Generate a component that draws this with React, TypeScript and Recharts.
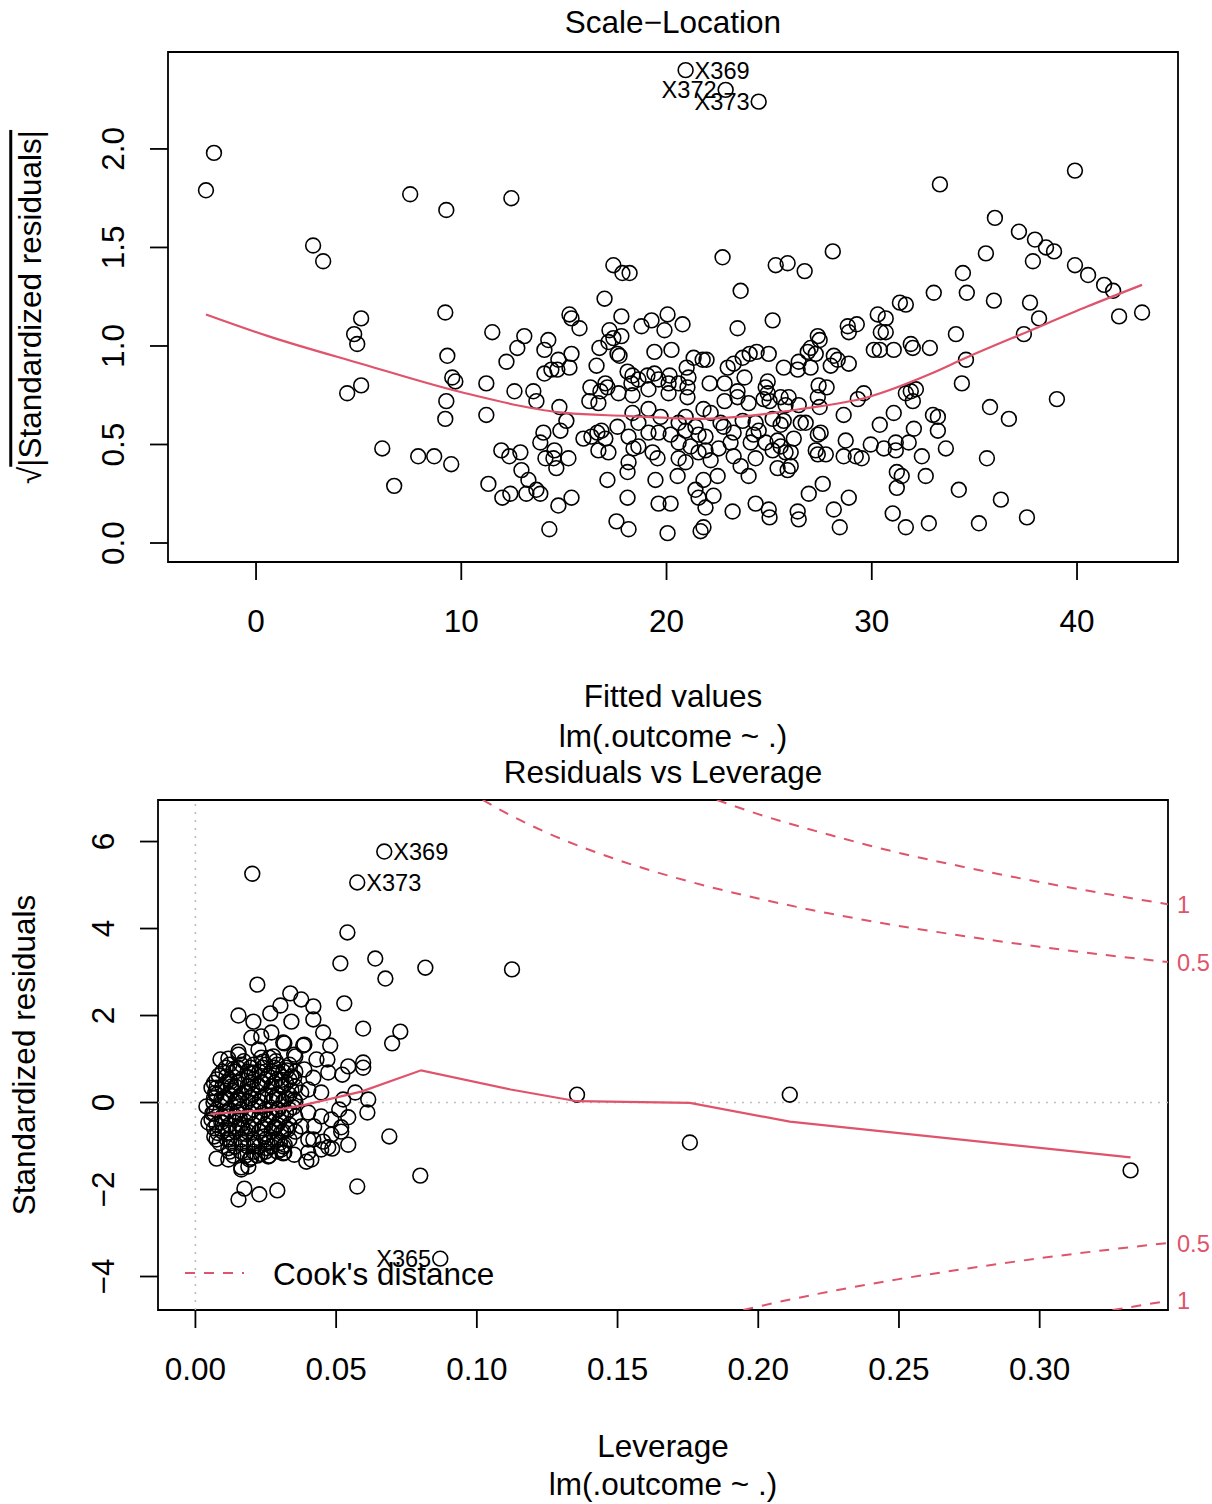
import React from "react";
import {
  ReferenceArea,
  ReferenceLine,
  Scatter,
  ScatterChart,
  XAxis,
  YAxis,
} from "recharts";

const FONT = "'Liberation Sans', Arial, Helvetica, sans-serif";
const RED = "#DF536B";
const INK = "#000";

// ---------- Scale-Location: fitted value vs sqrt(|standardized residual|) ----------
const slLeft: [number, number][] = [
  [-2.05, 1.98], [-2.44, 1.79], [7.51, 1.77], [9.27, 1.69], [2.78, 1.51], [3.27, 1.43],
  [5.12, 1.14], [4.78, 1.06], [4.93, 1.01], [9.22, 1.17], [9.32, 0.95], [9.56, 0.84],
  [9.71, 0.82], [5.12, 0.8], [4.44, 0.76], [9.27, 0.72], [9.22, 0.63], [6.15, 0.48],
  [7.9, 0.44], [8.68, 0.44], [9.51, 0.4], [6.73, 0.29], [11.51, 1.07], [11.22, 0.81],
  [11.22, 0.65], [11.95, 0.47], [11.32, 0.3],
];

const slMid: [number, number][] = [
  [12.44, 1.75], [17.41, 1.41], [17.85, 1.37], [18.2, 1.37], [16.98, 1.24], [17.8, 1.15],
  [15.27, 1.16], [15.37, 1.14], [15.76, 1.09], [13.07, 1.05], [12.73, 0.99], [14.24, 1.03],
  [14.05, 0.98], [12.2, 0.92], [15.37, 0.96], [14.73, 0.93], [14.68, 0.88], [15.27, 0.89],
  [14.39, 0.88], [14.05, 0.86], [17.22, 1.08], [17.41, 1.04], [17.8, 1.05], [16.73, 0.99],
  [17.17, 1.02], [17.61, 0.96], [17.71, 0.95], [16.59, 0.9], [18.78, 1.1], [19.27, 1.13],
  [20.05, 1.16], [19.9, 1.08], [20.78, 1.11], [19.41, 0.97], [20.24, 0.98], [21.32, 0.94],
  [20.98, 0.89], [21.76, 0.93], [12.59, 0.77], [13.51, 0.77], [13.66, 0.72], [14.78, 0.69],
  [15.12, 0.62], [14.83, 0.57], [14.0, 0.56], [13.85, 0.51], [12.34, 0.44], [12.88, 0.46],
  [14.1, 0.43], [14.54, 0.47], [14.49, 0.43], [15.22, 0.43], [14.63, 0.38], [12.93, 0.37],
  [13.27, 0.32], [13.66, 0.27], [13.85, 0.25], [13.17, 0.25], [12.39, 0.25], [12.0, 0.23],
  [15.37, 0.23], [14.73, 0.19], [14.29, 0.07], [16.29, 0.79], [16.24, 0.72], [16.78, 0.77],
  [17.02, 0.81], [16.68, 0.71], [17.12, 0.79], [17.66, 0.76], [18.1, 0.87], [18.34, 0.85],
  [18.63, 0.83], [18.29, 0.81], [19.07, 0.85], [19.41, 0.86], [19.61, 0.83], [20.15, 0.85],
  [20.1, 0.81], [20.59, 0.81], [21.07, 0.84], [21.02, 0.79], [18.34, 0.75], [19.12, 0.78],
  [20.1, 0.76], [21.02, 0.74], [19.12, 0.68], [18.34, 0.66], [19.71, 0.64], [18.63, 0.61],
  [17.61, 0.59], [15.95, 0.53], [16.34, 0.54], [16.63, 0.56], [16.83, 0.57], [17.02, 0.53],
  [16.68, 0.47], [17.17, 0.46], [18.15, 0.54], [18.39, 0.48], [19.12, 0.56], [19.61, 0.56],
  [20.2, 0.55], [20.59, 0.61], [20.93, 0.64], [20.93, 0.57], [21.41, 0.59], [21.56, 0.55],
  [20.59, 0.51], [21.17, 0.49], [18.63, 0.49], [19.32, 0.46], [19.56, 0.43], [20.59, 0.43],
  [20.93, 0.41], [21.56, 0.46], [18.15, 0.41], [18.1, 0.36], [17.12, 0.32], [19.46, 0.32],
  [20.54, 0.34], [21.41, 0.27], [21.56, 0.23], [18.1, 0.23], [19.61, 0.2], [20.2, 0.2],
  [17.56, 0.11], [18.15, 0.07], [20.05, 0.05], [21.66, 0.06],
];

const slRight: [number, number][] = [
  [22.73, 1.45], [25.32, 1.41], [25.9, 1.42], [26.73, 1.38], [28.1, 1.48], [23.61, 1.28],
  [33.02, 1.27], [31.37, 1.22], [31.66, 1.21], [30.29, 1.16], [30.68, 1.14], [23.46, 1.09],
  [25.17, 1.13], [28.83, 1.1], [29.27, 1.11], [28.88, 1.07], [30.44, 1.07], [30.68, 1.07],
  [30.1, 0.98], [30.39, 0.98], [31.07, 0.98], [31.9, 1.01], [32.0, 0.99], [32.83, 0.99],
  [27.37, 1.05], [27.46, 1.03], [27.02, 0.99], [27.27, 0.96], [26.88, 0.97], [26.44, 0.92],
  [26.39, 0.88], [27.02, 0.89], [25.71, 0.89], [28.15, 0.95], [28.34, 0.93], [28.0, 0.9],
  [28.88, 0.91], [21.95, 0.93], [22.98, 0.89], [23.27, 0.91], [23.71, 0.94], [24.05, 0.96],
  [24.39, 0.97], [24.98, 0.96], [23.8, 0.84], [22.1, 0.81], [22.83, 0.81], [23.46, 0.77],
  [23.46, 0.74], [22.83, 0.72], [24.0, 0.71], [24.93, 0.82], [24.83, 0.79], [24.93, 0.76],
  [24.73, 0.73], [25.02, 0.72], [25.56, 0.74], [25.95, 0.74], [25.8, 0.7], [26.44, 0.7],
  [27.41, 0.8], [27.8, 0.79], [27.37, 0.74], [27.46, 0.69], [29.32, 0.73], [29.61, 0.76],
  [28.63, 0.65], [31.66, 0.76], [31.9, 0.77], [32.15, 0.78], [32.0, 0.72], [31.07, 0.66],
  [32.98, 0.65], [33.22, 0.64], [30.39, 0.6], [32.05, 0.58], [33.22, 0.57], [21.8, 0.68],
  [22.15, 0.66], [22.63, 0.61], [22.78, 0.59], [23.71, 0.62], [24.34, 0.61], [24.49, 0.57],
  [25.17, 0.63], [25.71, 0.62], [25.56, 0.6], [26.54, 0.61], [26.78, 0.61], [27.37, 0.55],
  [27.51, 0.56], [26.2, 0.53], [25.41, 0.52], [25.56, 0.49], [24.83, 0.51], [24.24, 0.55],
  [24.1, 0.51], [23.27, 0.56], [23.12, 0.51], [22.54, 0.48], [21.9, 0.54], [21.9, 0.47],
  [22.15, 0.42], [23.27, 0.44], [24.34, 0.43], [25.17, 0.47], [25.8, 0.46], [26.05, 0.46],
  [27.27, 0.47], [27.37, 0.45], [27.76, 0.45], [28.73, 0.52], [28.63, 0.44], [29.22, 0.44],
  [29.51, 0.43], [29.95, 0.5], [30.59, 0.48], [31.17, 0.51], [31.17, 0.47], [31.8, 0.51],
  [32.44, 0.44], [23.61, 0.39], [24.0, 0.34], [25.41, 0.38], [25.9, 0.37], [26.05, 0.39],
  [22.49, 0.34], [21.8, 0.32], [22.29, 0.24], [21.9, 0.18], [31.22, 0.36], [31.46, 0.34],
  [31.22, 0.28], [32.63, 0.34], [26.93, 0.25], [27.61, 0.3], [28.88, 0.23], [24.34, 0.2],
  [24.98, 0.17], [25.02, 0.13], [23.22, 0.16], [26.39, 0.16], [26.44, 0.12], [28.15, 0.17],
  [28.44, 0.08], [31.02, 0.15], [31.66, 0.08], [32.78, 0.1], [21.8, 0.08],
  [33.32, 1.82], [39.9, 1.89], [36.0, 1.65], [37.17, 1.58], [37.95, 1.54], [38.49, 1.5],
  [38.88, 1.48], [35.56, 1.47], [37.85, 1.43], [39.9, 1.41], [40.54, 1.36], [41.32, 1.31],
  [41.76, 1.28], [34.44, 1.37], [34.63, 1.27], [35.95, 1.23], [37.71, 1.22], [38.15, 1.14],
  [42.05, 1.15], [43.17, 1.17], [34.1, 1.06], [37.41, 1.06], [34.59, 0.93], [34.39, 0.81],
  [39.02, 0.73], [35.76, 0.69], [36.68, 0.63], [33.61, 0.48], [35.61, 0.43], [34.24, 0.27],
  [36.29, 0.22], [37.56, 0.13], [35.22, 0.1],
];

const slFlagged = [
  { name: "X369", x: 20.93, y: 2.4 },
  { name: "X372", x: 22.88, y: 2.3 },
  { name: "X373", x: 24.49, y: 2.24 },
];

const slSmoothX = [-2.44, 0.59, 5.12, 10.2, 15.07, 18, 21.66, 24, 26.54, 29.8, 32.9, 34.59, 37.76, 40.5, 43.17];
const slSmoothY = [1.16, 1.05, 0.91, 0.76, 0.66, 0.645, 0.63, 0.645, 0.68, 0.74, 0.86, 0.94, 1.08, 1.2, 1.31];

const slXTicks = [0, 10, 20, 30, 40];
const slYTicks = [0, 0.5, 1, 1.5, 2];

// ---------- Residuals vs Leverage ----------
const rvlSparse: [number, number][] = [
  [0.0202, 5.26], [0.054, 3.91], [0.0515, 3.2], [0.0639, 3.31], [0.0675, 2.85], [0.0817, 3.1],
  [0.1125, 3.06], [0.0529, 2.28], [0.0596, 1.7], [0.0728, 1.63], [0.0699, 1.36], [0.0596, 0.92],
  [0.0596, 0.8], [0.0568, 0.23], [0.0611, -0.23], [0.0689, -0.78], [0.0799, -1.68], [0.0575, -1.93],
  [0.1356, 0.18], [0.2112, 0.18], [0.1757, -0.92], [0.3323, -1.56],
];

const rvlCluster: [number, number][] = [
  [0.022, 2.71], [0.0337, 2.51], [0.0376, 2.37], [0.0302, 2.23], [0.0419, 2.21], [0.0153, 2.0],
  [0.0206, 1.86], [0.0266, 2.05], [0.0341, 1.86], [0.0419, 1.91], [0.0199, 1.49], [0.0234, 1.52],
  [0.027, 1.61], [0.0224, 1.22], [0.0312, 1.38], [0.0387, 1.33], [0.0351, 1.1], [0.0263, 1.03],
  [0.0089, 0.99], [0.0153, 1.1], [0.0117, 1.01], [0.043, 0.99], [0.0387, 0.76], [0.011, 0.6],
  [0.0075, 0.34], [0.0064, 0.0], [0.0057, -0.39], [0.0067, -0.78], [0.0075, -1.29], [0.0117, -1.31],
  [0.0163, -1.49], [0.0188, -1.47], [0.0259, -1.24], [0.0312, -1.17], [0.0351, -1.2], [0.0394, -1.36],
  [0.0412, -1.31], [0.0174, -1.98], [0.0227, -2.11], [0.0291, -2.02], [0.0153, -2.23], [0.0401, -0.85],
  [0.0209, -1.01], [0.028, -0.85], [0.0376, -0.55], [0.0401, -0.23], [0.0401, 0.3], [0.0351, 0.07],
  [0.0305, 0.37], [0.0234, 0.46], [0.0174, 0.23], [0.0259, -0.39], [0.0188, -0.55], [0.0117, -0.69],
  [0.0305, -0.69], [0.0153, -0.09], [0.0224, -0.09], [0.0295, -0.16], [0.0117, -0.32], [0.0092, 0.07],
  [0.0128, 0.37], [0.0199, 0.69], [0.0295, 0.69], [0.0341, 0.6], [0.0454, 1.61], [0.0479, 1.31],
  [0.0383, 1.31], [0.0355, 1.06], [0.0316, 1.36], [0.0469, 0.99], [0.0543, 0.83], [0.0522, 0.64],
  [0.0472, 0.69], [0.0419, 0.57], [0.0351, 0.57], [0.0525, 0.07], [0.0447, 0.23], [0.0376, 0.23],
  [0.0543, -0.34], [0.0511, -0.16], [0.0483, -0.39], [0.0447, -0.32], [0.0422, -0.55], [0.0518, -0.57],
  [0.0483, -0.74], [0.0543, -0.97], [0.0472, -1.03], [0.0419, -0.85], [0.0447, -1.08], [0.0305, -1.08],
  [0.0277, 1.06], [0.0614, 0.07], [0.0518, -0.67], [0.0486, -1.06], [0.0454, -0.9], [0.0401, -1.15],
  [0.0316, -1.15], [0.0234, 1.03], [0.0153, 1.17], [0.0057, 0.34], [0.0039, -0.09], [0.0046, -0.46],
  [0.0163, -1.54], [0.0192, -1.31],
];

// the near-solid core of the low-leverage cloud
const rvlCore: [number, number][] = [
  [0.0121, 0.87], [0.0163, 0.87], [0.0206, 0.87], [0.0249, 0.87], [0.0291, 0.87], [0.0334, 0.87],
  [0.0075, 0.53], [0.0121, 0.53], [0.0163, 0.53], [0.0206, 0.53], [0.0249, 0.53], [0.0291, 0.53], [0.0334, 0.53],
  [0.0075, 0.18], [0.0121, 0.18], [0.0163, 0.18], [0.0206, 0.18], [0.0249, 0.18], [0.0291, 0.18], [0.0334, 0.18],
  [0.0075, -0.16], [0.0121, -0.16], [0.0163, -0.16], [0.0206, -0.16], [0.0249, -0.16], [0.0291, -0.16], [0.0334, -0.16],
  [0.0075, -0.51], [0.0121, -0.51], [0.0163, -0.51], [0.0206, -0.51], [0.0249, -0.51], [0.0291, -0.51], [0.0334, -0.51],
  [0.0075, -0.85], [0.0121, -0.85], [0.0163, -0.85], [0.0206, -0.85], [0.0249, -0.85], [0.0291, -0.85], [0.0334, -0.85],
  [0.0121, -1.13], [0.0163, -1.13], [0.0206, -1.13], [0.0249, -1.13], [0.0291, -1.13],
  [0.0096, 0.71], [0.0142, 0.71], [0.0185, 0.71], [0.0227, 0.71], [0.027, 0.71], [0.0312, 0.71], [0.0355, 0.71],
  [0.0096, 0.37], [0.0142, 0.37], [0.0185, 0.37], [0.0227, 0.37], [0.027, 0.37], [0.0312, 0.37], [0.0355, 0.37],
  [0.0096, 0.02], [0.0142, 0.02], [0.0185, 0.02], [0.0227, 0.02], [0.027, 0.02], [0.0312, 0.02], [0.0355, 0.02],
  [0.0096, -0.32], [0.0142, -0.32], [0.0185, -0.32], [0.0227, -0.32], [0.027, -0.32], [0.0312, -0.32], [0.0355, -0.32],
  [0.0096, -0.67], [0.0142, -0.67], [0.0185, -0.67], [0.0227, -0.67], [0.027, -0.67], [0.0312, -0.67], [0.0355, -0.67],
  [0.0142, -1.01], [0.0185, -1.01], [0.0227, -1.01], [0.027, -1.01], [0.0312, -1.01],
  [0.0108, 0.8], [0.015, 0.8], [0.0195, 0.8], [0.0238, 0.8], [0.028, 0.8], [0.0322, 0.8],
  [0.0066, 0.45], [0.0108, 0.45], [0.015, 0.45], [0.0195, 0.45], [0.0238, 0.45], [0.028, 0.45], [0.0322, 0.45],
  [0.0066, 0.1], [0.0108, 0.1], [0.015, 0.1], [0.0195, 0.1], [0.0238, 0.1], [0.028, 0.1], [0.0322, 0.1],
  [0.0066, -0.24], [0.0108, -0.24], [0.015, -0.24], [0.0195, -0.24], [0.0238, -0.24], [0.028, -0.24], [0.0322, -0.24],
  [0.0066, -0.59], [0.0108, -0.59], [0.015, -0.59], [0.0195, -0.59], [0.0238, -0.59], [0.028, -0.59], [0.0322, -0.59],
  [0.0086, -0.93], [0.0128, -0.93], [0.017, -0.93], [0.0213, -0.93], [0.0256, -0.93], [0.03, -0.93],
  [0.0135, -1.22], [0.0178, -1.22], [0.022, -1.22], [0.0262, -1.22],
];

// scattered overlaps inside the core, which break up the lattice look
const rvlCoreExtra: [number, number][] = [
  [0.0083, 0.62], [0.0131, 0.27], [0.0172, 0.95], [0.0214, -0.05], [0.0257, 0.61], [0.0299, -0.42],
  [0.0341, 0.28], [0.0079, -0.7], [0.0117, -1.05], [0.0158, -0.38], [0.0201, 0.32], [0.0244, -0.78],
  [0.0286, 0.95], [0.0328, -0.62], [0.0104, 0.12], [0.0147, -0.22], [0.0189, 0.58], [0.0232, -1.18],
  [0.0274, 0.16], [0.0317, -0.97], [0.0092, -0.46], [0.0136, 0.77], [0.0178, -0.72], [0.0221, 0.41],
  [0.0263, -0.29], [0.0306, 0.52], [0.0348, -0.11], [0.007, 0.22], [0.0112, -0.85], [0.0155, 0.05],
  [0.0198, -1.27], [0.024, 0.94], [0.0283, -0.56], [0.0325, 0.74], [0.006, -0.25], [0.0125, 0.48],
  [0.0167, -0.58], [0.021, 0.68], [0.0252, -1.05], [0.0295, 0.08],
];

const rvlFlagged = [
  { name: "X369", x: 0.0671, y: 5.77 },
  { name: "X373", x: 0.0575, y: 5.06 },
  { name: "X365", x: 0.087, y: -3.59 },
];

const rvlSmoothX = [0.0053, 0.02, 0.0305, 0.0376, 0.0483, 0.0589, 0.0802, 0.112, 0.1356, 0.1757, 0.2112, 0.3323];
const rvlSmoothY = [-0.26, -0.2, -0.15, -0.07, 0.09, 0.25, 0.74, 0.3, 0.03, -0.01, -0.44, -1.26];

// Cook's distance contours
const cookUp05X = [0.1021, 0.11, 0.125, 0.15, 0.175, 0.2, 0.225, 0.25, 0.275, 0.3, 0.325, 0.3456];
const cookUp05Y = [6.955, 6.67, 6.2, 5.58, 5.09, 4.69, 4.35, 4.06, 3.81, 3.58, 3.38, 3.23];
const cookUp1X = [0.1853, 0.2, 0.225, 0.25, 0.275, 0.3, 0.325, 0.3456];
const cookUp1Y = [6.955, 6.63, 6.16, 5.74, 5.39, 5.07, 4.78, 4.56];
const cookLo05X = [0.1947, 0.2, 0.225, 0.25, 0.275, 0.3, 0.325, 0.3456];
const cookLo05Y = [-4.77, -4.69, -4.35, -4.06, -3.81, -3.58, -3.38, -3.23];
const cookLo1X = [0.3259, 0.3456];
const cookLo1Y = [-4.77, -4.56];
const cookLabelAt = [4.56, 3.23, -3.23, -4.56];
const cookLabelText = ["1", "0.5", "0.5", "1"];

const rvlXTicks = [0, 0.05, 0.1, 0.15, 0.2, 0.25, 0.3];
const rvlYTicks = [-4, -2, 0, 2, 4, 6];

const SL_X: [number, number] = [-4.29, 44.92];
const SL_Y: [number, number] = [-0.0964, 2.492];
const RVL_X: [number, number] = [-0.0133, 0.3456];
const RVL_Y: [number, number] = [-4.77, 6.955];

// which side of the point each id label sits on, per panel
const slSide: Record<string, "left" | "right"> = { X369: "right", X372: "left", X373: "left" };
const rvlSide: Record<string, "left" | "right"> = { X369: "right", X373: "right", X365: "left" };

const pts = (a: [number, number][]) => a.map(([x, y]) => ({ x, y }));
const zipXY = (xs: number[], ys: number[]) => xs.map((x, i) => ({ x, y: ys[i] }));

const ring = (p: any) => (
  <circle cx={p.cx} cy={p.cy} r={7.4} fill="none" stroke={INK} strokeWidth={1.6} />
);

const flaggedRing = (side: Record<string, "left" | "right">) => (p: any) => {
  const name = p.payload?.name ?? p.name;
  const left = side[name] === "left";
  return (
    <g>
      <circle cx={p.cx} cy={p.cy} r={7.4} fill="none" stroke={INK} strokeWidth={1.6} />
      <text
        x={left ? p.cx - 9 : p.cx + 9}
        y={p.cy}
        dy="0.36em"
        textAnchor={left ? "end" : "start"}
        fontSize={23.6}
        fontFamily={FONT}
        fill={INK}
      >
        {name}
      </text>
    </g>
  );
};

const noMark = () => <g />;

const minus = (s: string) => s.replace("-", "\u2212");

const xTick = (fmt: (v: number) => string) => (p: any) => (
  <text x={p.x} y={p.y + 52} textAnchor="middle" fontSize={31.5} fontFamily={FONT} fill={INK}>
    {fmt(p.payload.value)}
  </text>
);

const yTick = (fmt: (v: number) => string) => (p: any) => {
  const cx = p.x - 37;
  const cy = p.y;
  return (
    <text
      x={cx}
      y={cy}
      dy="0.36em"
      transform={`rotate(-90 ${cx} ${cy})`}
      textAnchor="middle"
      fontSize={31.5}
      fontFamily={FONT}
      fill={INK}
    >
      {fmt(p.payload.value)}
    </text>
  );
};

const cookTick = (p: any) => {
  const i = cookLabelAt.indexOf(p.payload.value);
  return (
    <text x={p.x + 9} y={p.y} dy="0.36em" textAnchor="start" fontSize={23.6} fontFamily={FONT} fill={RED}>
      {cookLabelText[i] ?? ""}
    </text>
  );
};

type CaptionProps = {
  x: number;
  y: number;
  rotate?: boolean;
  align?: "center" | "left";
  children: React.ReactNode;
};

function Caption({ x, y, rotate, align = "center", children }: CaptionProps) {
  const shift = align === "center" ? "translate(-50%,-50%)" : "translate(0,-50%)";
  return (
    <div
      style={{
        position: "absolute",
        left: x,
        top: y,
        transform: shift + (rotate ? " rotate(-90deg)" : ""),
        fontSize: 31.5,
        lineHeight: 1,
        whiteSpace: "nowrap",
        fontFamily: FONT,
        color: INK,
      }}
    >
      {children}
    </div>
  );
}

const tickLine = { stroke: INK, strokeWidth: 1.8 };

export default function App() {
  return (
    <div
      style={{
        position: "absolute",
        left: 0,
        top: 0,
        width: 1212,
        height: 1504,
        background: "#fff",
        overflow: "hidden",
      }}
    >
      <div style={{ position: "absolute", left: 0, top: 0 }}>
        <ScatterChart width={1212} height={752} margin={{ top: 52, right: 34, bottom: 160, left: 108 }}>
          <XAxis
            type="number"
            dataKey="x"
            domain={SL_X}
            ticks={slXTicks}
            interval={0}
            allowDataOverflow
            height={30}
            tickSize={18}
            tickMargin={0}
            axisLine={false}
            tickLine={tickLine}
            tick={xTick((v) => String(v))}
          />
          <YAxis
            type="number"
            dataKey="y"
            domain={SL_Y}
            ticks={slYTicks}
            interval={0}
            allowDataOverflow
            width={60}
            tickSize={18}
            tickMargin={0}
            axisLine={false}
            tickLine={tickLine}
            tick={yTick((v) => v.toFixed(1))}
          />
          <ReferenceArea
            x1={SL_X[0]}
            x2={SL_X[1]}
            y1={SL_Y[0]}
            y2={SL_Y[1]}
            fill="none"
            fillOpacity={0}
            stroke={INK}
            strokeWidth={1.8}
            ifOverflow="visible"
          />
          <Scatter data={pts(slLeft)} shape={ring} isAnimationActive={false} />
          <Scatter data={pts(slMid)} shape={ring} isAnimationActive={false} />
          <Scatter data={pts(slRight)} shape={ring} isAnimationActive={false} />
          <Scatter data={slFlagged} shape={flaggedRing(slSide)} isAnimationActive={false} />
          <Scatter
            data={zipXY(slSmoothX, slSmoothY)}
            shape={noMark}
            line={{ stroke: RED, strokeWidth: 2.2 }}
            lineJointType="monotoneX"
            isAnimationActive={false}
          />
        </ScatterChart>
      </div>

      <div style={{ position: "absolute", left: 0, top: 752 }}>
        <ScatterChart width={1212} height={752} margin={{ top: 48, right: 4, bottom: 164, left: 98 }}>
          <XAxis
            type="number"
            dataKey="x"
            domain={RVL_X}
            ticks={rvlXTicks}
            interval={0}
            allowDataOverflow
            height={30}
            tickSize={18}
            tickMargin={0}
            axisLine={false}
            tickLine={tickLine}
            tick={xTick((v) => v.toFixed(2))}
          />
          <YAxis
            type="number"
            dataKey="y"
            domain={RVL_Y}
            ticks={rvlYTicks}
            interval={0}
            allowDataOverflow
            width={60}
            tickSize={18}
            tickMargin={0}
            axisLine={false}
            tickLine={tickLine}
            tick={yTick((v) => minus(String(v)))}
          />
          <YAxis
            yAxisId="cook"
            orientation="right"
            type="number"
            domain={RVL_Y}
            ticks={cookLabelAt}
            interval={0}
            allowDataOverflow
            width={40}
            tickSize={0}
            tickMargin={0}
            axisLine={false}
            tickLine={false}
            tick={cookTick}
          />
          <ReferenceLine y={0} stroke="#BEBEBE" strokeWidth={1.6} strokeDasharray="2 6" />
          <ReferenceLine x={0} stroke="#BEBEBE" strokeWidth={1.6} strokeDasharray="2 6" />
          <ReferenceArea
            x1={RVL_X[0]}
            x2={RVL_X[1]}
            y1={RVL_Y[0]}
            y2={RVL_Y[1]}
            fill="none"
            fillOpacity={0}
            stroke={INK}
            strokeWidth={1.8}
            ifOverflow="visible"
          />
          <Scatter data={pts(rvlCore)} shape={ring} isAnimationActive={false} />
          <Scatter data={pts(rvlCoreExtra)} shape={ring} isAnimationActive={false} />
          <Scatter data={pts(rvlCluster)} shape={ring} isAnimationActive={false} />
          <Scatter data={pts(rvlSparse)} shape={ring} isAnimationActive={false} />
          <Scatter data={rvlFlagged} shape={flaggedRing(rvlSide)} isAnimationActive={false} />
          <Scatter
            data={zipXY(rvlSmoothX, rvlSmoothY)}
            shape={noMark}
            line={{ stroke: RED, strokeWidth: 2.2 }}
            isAnimationActive={false}
          />
          {[
            zipXY(cookUp05X, cookUp05Y),
            zipXY(cookUp1X, cookUp1Y),
            zipXY(cookLo05X, cookLo05Y),
            zipXY(cookLo1X, cookLo1Y),
          ].map((d, i) => (
            <Scatter
              key={i}
              data={d}
              shape={noMark}
              line={{ stroke: RED, strokeWidth: 2, strokeDasharray: "10 9" }}
              lineJointType="monotoneX"
              isAnimationActive={false}
            />
          ))}
        </ScatterChart>
      </div>

      <Caption x={673} y={23}>Scale{"\u2212"}Location</Caption>
      <Caption x={673} y={697}>Fitted values</Caption>
      <Caption x={673} y={737}>lm(.outcome ~ .)</Caption>
      <Caption x={31} y={307} rotate>
        {"\u221A"}
        <span style={{ textDecoration: "overline" }}>|Standardized residuals|</span>
      </Caption>

      <Caption x={663} y={773}>Residuals vs Leverage</Caption>
      <Caption x={663} y={1447}>Leverage</Caption>
      <Caption x={663} y={1485}>lm(.outcome ~ .)</Caption>
      <Caption x={25} y={1055} rotate>Standardized residuals</Caption>

      <svg style={{ position: "absolute", left: 184, top: 1263 }} width={62} height={20}>
        <line x1={1} y1={10} x2={60} y2={10} stroke={RED} strokeWidth={2} strokeDasharray="10 9" />
      </svg>
      <Caption x={273} y={1275} align="left">Cook's distance</Caption>
    </div>
  );
}
